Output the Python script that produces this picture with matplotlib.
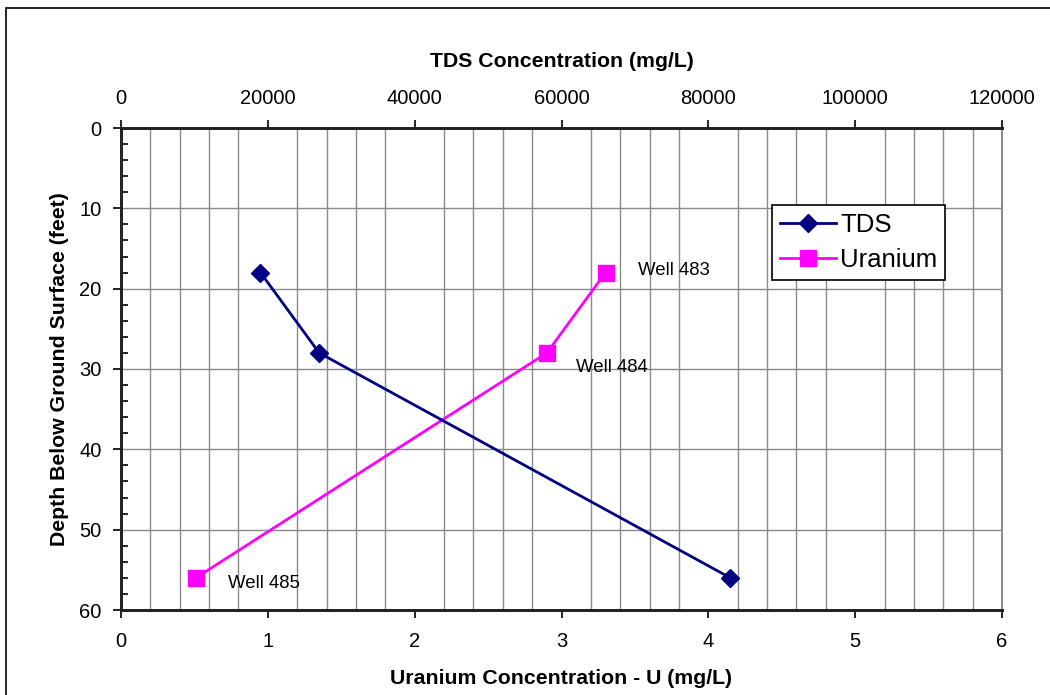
import matplotlib
matplotlib.use("Agg")
import matplotlib.pyplot as plt
from matplotlib.patches import Rectangle
from matplotlib.ticker import MultipleLocator

plt.rcParams["font.family"] = ["Liberation Sans", "DejaVu Sans"]

# data
depth = [18, 28, 56]
tds = [19000, 27000, 83000]          # mg/L
uranium = [3.3, 2.9, 0.51]           # mg/L
wells = ["Well 483", "Well 484", "Well 485"]
well_xy = [(3.52, 17.7), (3.10, 29.8), (0.73, 56.7)]   # label anchors (U axis, depth)

fig = plt.figure(figsize=(10.5, 6.95), dpi=100)
fig.patches.append(Rectangle((6/1050, -0.5), 2, 0.5 + 1 - 8/695, transform=fig.transFigure,
                             fill=False, ec="black", lw=1.2))
ax = fig.add_axes([121/1050, 1 - 610/695, 881/1050, 482/695])
ax2 = ax.twiny()

ax.set_xlim(0, 6); ax.set_ylim(60, 0)
ax2.set_xlim(0, 120000)

ax.xaxis.set_major_locator(MultipleLocator(1))
ax.xaxis.set_minor_locator(MultipleLocator(0.2))
ax.yaxis.set_major_locator(MultipleLocator(10))
ax.yaxis.set_minor_locator(MultipleLocator(2))
ax2.xaxis.set_major_locator(MultipleLocator(20000))

ax.grid(True, which="major", axis="y", color="#8a8a8a", lw=1.0)
ax.grid(True, which="minor", axis="x", color="#8a8a8a", lw=1.0)
ax.set_axisbelow(True)

ax.tick_params(axis="x", which="major", direction="out", length=6, width=1.2, labelsize=14.5, pad=9.5)
ax.tick_params(axis="x", which="minor", length=0)
ax.tick_params(axis="y", which="major", direction="out", length=6, width=1.2, labelsize=14.5, pad=8)
ax.tick_params(axis="y", which="minor", direction="in", length=5, width=1.2)
ax2.tick_params(axis="x", direction="out", length=6, width=1.2, labelsize=14.5, pad=8.5)

for a in (ax, ax2):
    for s in ("left", "bottom", "top"):
        a.spines[s].set_color("#222222"); a.spines[s].set_linewidth(2)
    a.spines["right"].set_color("#8a8a8a"); a.spines["right"].set_linewidth(1.2)

lu, = ax.plot(uranium, depth, color="#ff00ff", lw=2, marker="s", ms=11, label="Uranium", zorder=3)
lt, = ax2.plot(tds, depth, color="#000080", lw=2, marker="D", ms=9, label="TDS", zorder=3)

for w, (x, y) in zip(wells, well_xy):
    ax.text(x, y, w, fontsize=13.4, va="center", ha="left")

ax.set_xlabel("Uranium Concentration - U (mg/L)", fontsize=15.3, fontweight="bold", labelpad=13.5)
ax.set_ylabel("Depth Below Ground Surface (feet)", fontsize=15.3, fontweight="bold", labelpad=7)
ax2.set_xlabel("TDS Concentration (mg/L)", fontsize=15.3, fontweight="bold", labelpad=15.5)

leg = ax2.legend([lt, lu], ["TDS", "Uranium"], loc="upper left", bbox_to_anchor=(0.739, 0.840),
                 borderaxespad=0, fontsize=18.5, fancybox=False, framealpha=1, edgecolor="black",
                 handlelength=2.2, handletextpad=0.15, borderpad=0.3, labelspacing=0.45)
leg.get_frame().set_linewidth(1.2)

fig.savefig("out.png", dpi=100)
